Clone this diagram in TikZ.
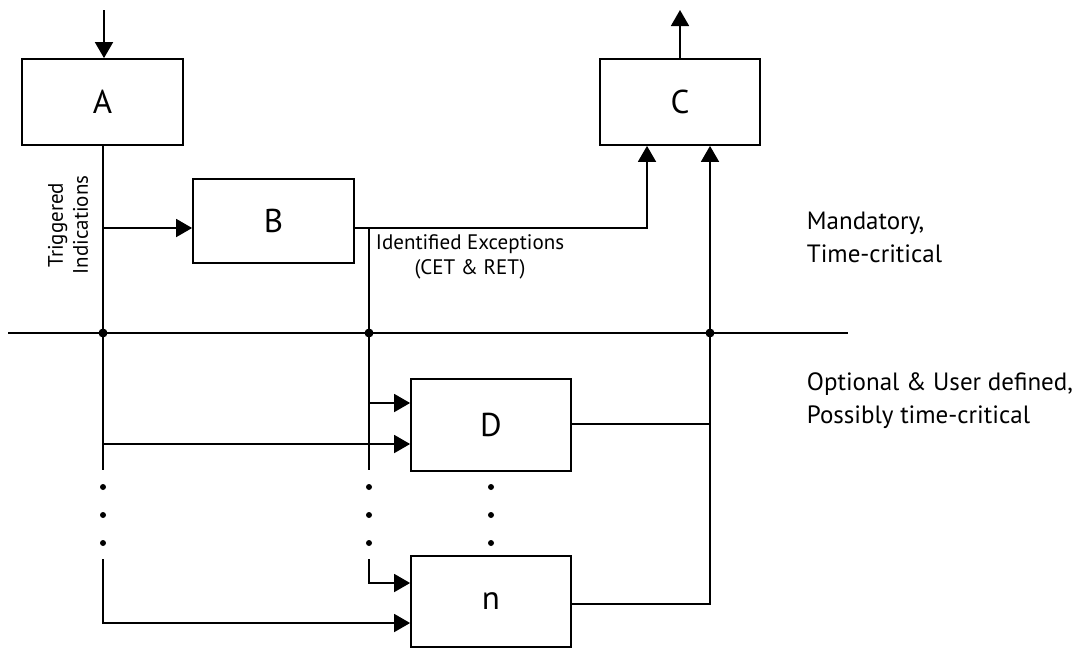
\documentclass[tikz,border=0pt]{standalone}
\usepackage{fontspec}
\setmainfont{PT Sans}
\usetikzlibrary{arrows.meta,calc}
\begin{document}
\begin{tikzpicture}[x=1pt,y=-1pt,
  line width=1.8pt,
  box/.style={draw,line width=1.8pt,minimum width=161pt,inner sep=0pt,font=\fontsize{33}{36}\selectfont},
  arr/.style={-{Triangle[length=16pt,width=18pt]}},
  lbl/.style={font=\fontsize{21}{25}\selectfont,inner sep=0pt},
  side/.style={font=\fontsize{25}{33}\selectfont,inner sep=0pt,align=left,anchor=west},
  junc/.style={circle,fill=black,inner sep=0pt,minimum size=9pt},
  sdot/.style={circle,fill=black,inner sep=0pt,minimum size=6pt}]
\useasboundingbox (0,0) rectangle (1075,649);
% boxes
\node[box,minimum height=86pt] (A) at (102.5,102) {A};
\node[box,minimum height=84pt] (B) at (273.5,221) {\raisebox{-7pt}{B}};
\node[box,minimum height=86pt,minimum width=160pt] (C) at (680,102) {C};
\node[box,minimum height=92pt,minimum width=160pt] (D) at (491,425) {D};
\node[box,minimum height=91pt,minimum width=160pt] (N) at (491,601.5) {\raisebox{-3pt}{n}};
% coordinates
\coordinate (in) at (104,10);
\coordinate (out) at (680,10);
\coordinate (busL) at (8,333);
\coordinate (busR) at (848,333);
\coordinate (aEnd) at (103,470);
\coordinate (aBr) at (103,228);
\coordinate (aD) at (103,444);
\coordinate (aS) at (103,559);
\coordinate (aN) at (103,623);
\coordinate (eBr) at (369,228);
\coordinate (eEnd) at (369,470);
\coordinate (eD) at (369,403);
\coordinate (eS) at (369,559);
\coordinate (eN) at (369,583);
\coordinate (bC) at (647,228);
\coordinate (rD) at (710,424);
\coordinate (rN) at (710,604);
% bus and junctions
\draw (busL) -- (busR);
\node[junc] (j1) at (103,333) {};
\node[junc] (j2) at (369,333) {};
\node[junc] (j3) at (710,333) {};
% connectors
\draw[arr] (in) -- (A.north -| in);
\draw (A.south -| aBr) -- (aEnd);
\draw[arr] (aBr) -- (aBr -| B.west);
\draw[arr] (B.east |- bC) -- (bC) -- (bC |- C.south);
\draw (eBr) -- (eEnd);
\draw[arr] (eD) -- (eD -| D.west);
\draw[arr] (aD) -- (aD -| D.west);
\draw[arr] (eS) -- (eN) -- (eN -| N.west);
\draw[arr] (aS) -- (aN) -- (aN -| N.west);
\draw (D.east |- rD) -- (rD);
\draw[arr] (N.east |- rN) -- (rN) -- (rN |- C.south);
\draw[arr] (C.north -| out) -- (out);
% ellipsis dots
\foreach \yy [count=\i] in {487,515,543}{
  \node[sdot] (da\i) at (103,\yy) {};
  \node[sdot] (de\i) at (369,\yy) {};
  \node[sdot] (dd\i) at (491,\yy) {};
}
% labels
\node[lbl,rotate=90,align=center] (trig) at (68,225) {Triggered\\Indications};
\node[lbl,align=center] (ident) at (470,257) {Identified Exceptions\\(CET \& RET)};
\node[side] (mand) at (806,237.5) {Mandatory,\\Time-critical};
\node[side] (opt) at (806,401) {Optional \& User defined,\\Possibly time-critical};
\end{tikzpicture}
\end{document}
